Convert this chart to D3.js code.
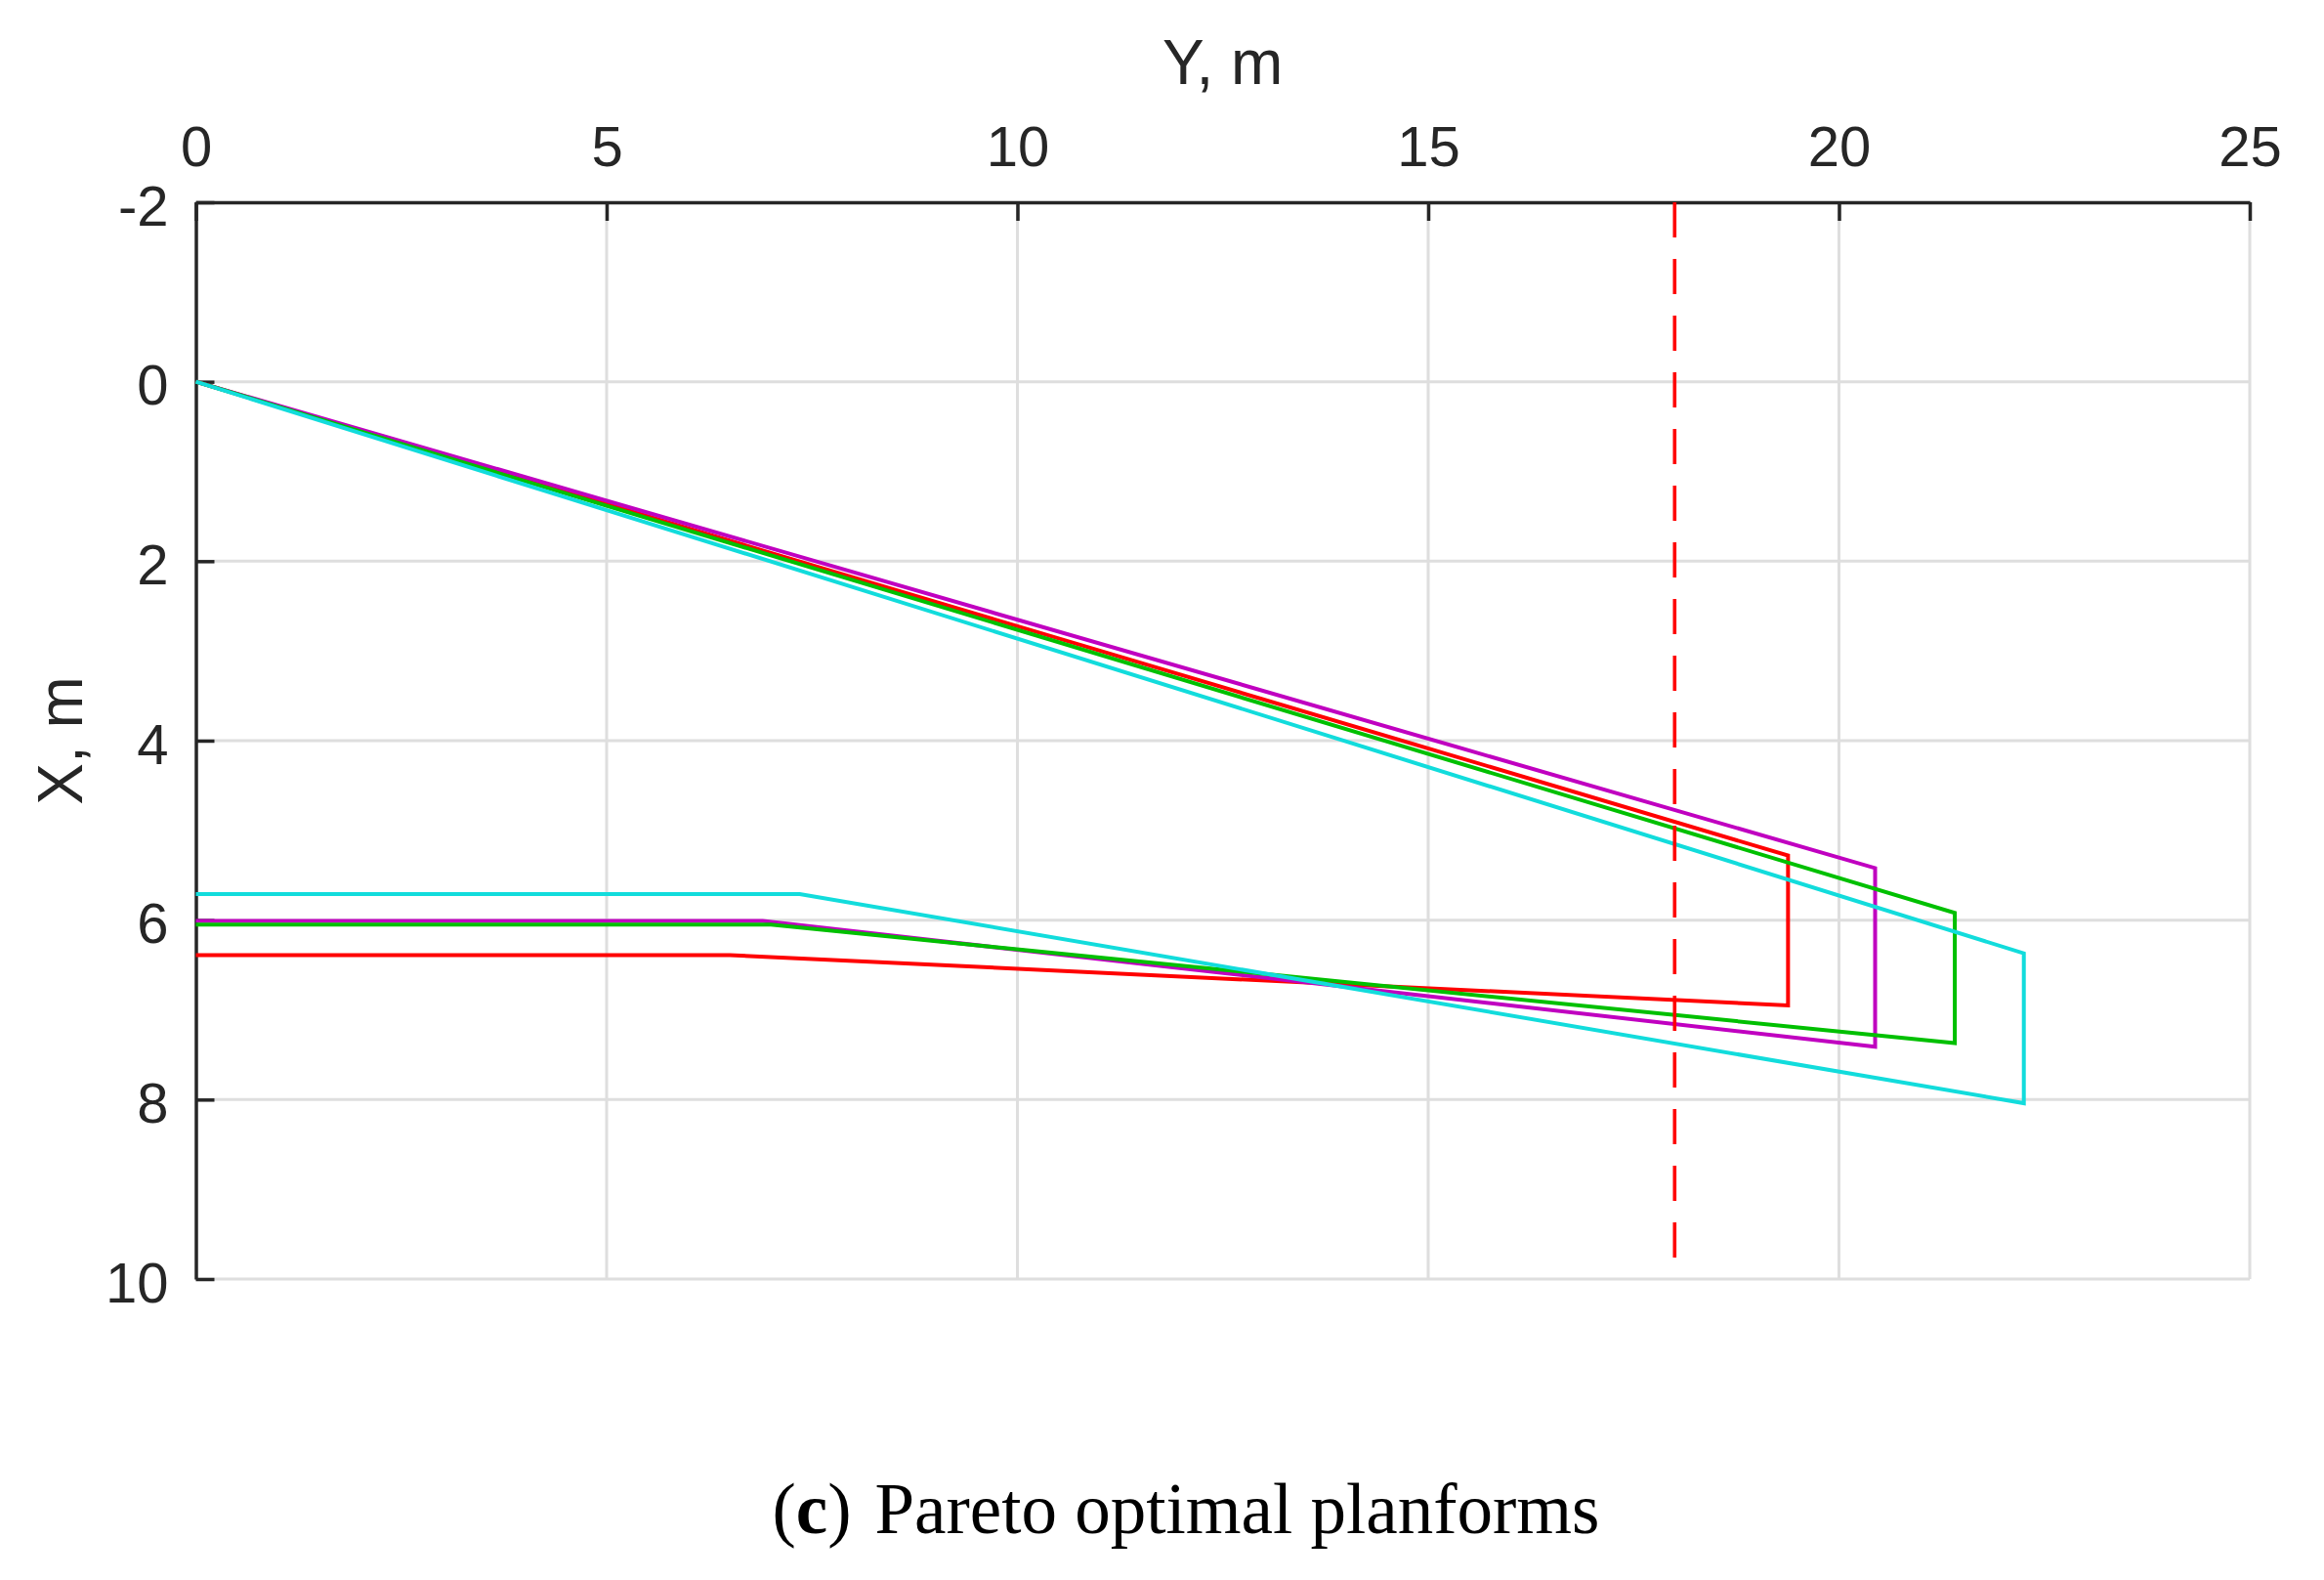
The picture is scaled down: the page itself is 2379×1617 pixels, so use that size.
<!DOCTYPE html>
<html>
<head>
<meta charset="utf-8">
<script src="https://cdn.jsdelivr.net/npm/d3@7"></script>
<style>
  html, body { margin: 0; padding: 0; background: #fff; }
  svg { display: block; }
</style>
</head>
<body>
<div id="chart"></div>
<script>
// planform series (red, magenta, green, cyan)
const names = ["red", "magenta", "green", "cyan"];
const colors = ["#ff0000", "#c000c0", "#00c000", "#12dcdc"];
const tipSpan = [19.38, 20.44, 21.41, 22.25];   // Y at tip, m
const tipLE = [5.28, 5.42, 5.92, 6.37];         // X of tip leading edge
const tipTE = [6.95, 7.41, 7.37, 8.04];         // X of tip trailing edge
const rootTE = [6.39, 6.01, 6.05, 5.71];        // X of root trailing edge
const kinkSpan = [6.5, 6.9, 7.0, 7.35];         // Y of trailing edge kink
const limitSpan = 18;                            // dashed span limit

const yTicks = [0, 5, 10, 15, 20, 25];
const xTicks = [-2, 0, 2, 4, 6, 8, 10];

const width = 2379, height = 1617;
const plotLeft = 200.5, plotRight = 2303, plotTop = 207, plotBottom = 1309;

function createSvg(container, w, h) {
    let svg = d3.select(container).append("svg").attr("width", w).attr("height", h);
    svg.append("rect").attr("width", w).attr("height", h).attr("fill", "#fff");
    return svg;
}

let svg = createSvg("#chart", width, height);

let xScale = d3.scaleLinear().domain([0, 25]).range([plotLeft, plotRight]);
let yScale = d3.scaleLinear().domain([-2, 10]).range([plotTop, plotBottom]);

// grid
let grid = svg.append("g").attr("stroke", "#dedede").attr("stroke-width", 3);
grid.selectAll("line.v").data(yTicks.slice(1)).join("line").attr("class", "v")
    .attr("x1", d => xScale(d)).attr("x2", d => xScale(d))
    .attr("y1", plotTop).attr("y2", plotBottom);
grid.selectAll("line.h").data(xTicks.slice(1)).join("line").attr("class", "h")
    .attr("y1", d => yScale(d)).attr("y2", d => yScale(d))
    .attr("x1", plotLeft).attr("x2", plotRight);

// axes
let fmt = d => String(d);
let topAxis = d3.axisTop(xScale).tickValues(yTicks).tickFormat(fmt)
    .tickSizeInner(-19).tickSizeOuter(0).tickPadding(37);
let leftAxis = d3.axisLeft(yScale).tickValues(xTicks).tickFormat(fmt)
    .tickSizeInner(-19).tickSizeOuter(0).tickPadding(28);

function styleAxis(g) {
    g.select(".domain").attr("stroke", "#262626").attr("stroke-width", 3.5);
    g.selectAll(".tick line").attr("stroke", "#262626").attr("stroke-width", 3.5);
    g.selectAll(".tick text").attr("fill", "#262626")
        .style("font-family", "'Liberation Sans', Arial, sans-serif").style("font-size", "58px");
}

svg.append("g").attr("transform", `translate(0,${plotTop})`).call(topAxis).call(styleAxis);
svg.append("g").attr("transform", `translate(${plotLeft},0)`).call(leftAxis).call(styleAxis)
    .selectAll(".tick text").attr("dy", "0.4em");

// planforms
let line = d3.line().x(d => xScale(d[0])).y(d => yScale(d[1]));
let shapes = names.map((n, i) => [
    [0, rootTE[i]],
    [kinkSpan[i], rootTE[i]],
    [tipSpan[i], tipTE[i]],
    [tipSpan[i], tipLE[i]],
    [0, 0]
]);

svg.append("g").selectAll("path").data(shapes).join("path")
    .attr("d", line)
    .attr("fill", "none")
    .attr("stroke", (d, i) => colors[i])
    .attr("stroke-width", 4)
    .attr("stroke-linejoin", "miter");

// span limit
svg.append("path")
    .attr("d", line([[limitSpan, -2], [limitSpan, 10]]))
    .attr("stroke", "#ff0000").attr("stroke-width", 3.6)
    .attr("stroke-dasharray", "36,22").attr("fill", "none");

// axis titles
svg.append("text")
    .attr("x", (plotLeft + plotRight) / 2).attr("y", 86)
    .attr("text-anchor", "middle").attr("fill", "#262626")
    .style("font-family", "'Liberation Sans', Arial, sans-serif").style("font-size", "64px")
    .text("Y, m");

svg.append("text")
    .attr("transform", `translate(84,${(plotTop + plotBottom) / 2}) rotate(-90)`)
    .attr("text-anchor", "middle").attr("fill", "#262626")
    .style("font-family", "'Liberation Sans', Arial, sans-serif").style("font-size", "64px")
    .text("X, m");

// caption
let cap = svg.append("text")
    .attr("x", 1214).attr("y", 1569)
    .attr("text-anchor", "middle").attr("fill", "#000")
    .style("font-family", "'Liberation Serif', 'Times New Roman', serif").style("font-size", "73px");
cap.append("tspan").text("(");
cap.append("tspan").attr("font-weight", "bold").text("c");
cap.append("tspan").text(")");
cap.append("tspan").attr("dx", 24).text("Pareto optimal planforms");
</script>
</body>
</html>
